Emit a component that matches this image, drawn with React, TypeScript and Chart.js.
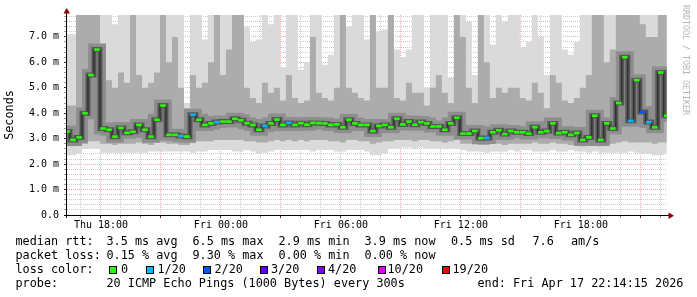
import React, { useEffect, useRef } from "react";
import { Chart, registerables } from "chart.js";

Chart.register(...registerables);

// ---- sampling of the time axis (hours since Thu 00:00) ----
const START_HOUR = 16.3;
const STEP_HOURS = 0.3;
const END_HOUR = 46.31;

// ---- median RTT (ms) ----
const medianMs = [
  3.28, 2.95, 3.05, 4.0, 5.5, 6.5, 3.4, 3.35, 3.08, 3.42,
  3.23, 3.27, 3.54, 3.35, 3.08, 3.74, 4.3, 3.15, 3.15, 3.1,
  3.08, 3.94, 3.74, 3.54, 3.6, 3.65, 3.67, 3.67, 3.78, 3.72,
  3.61, 3.54, 3.35, 3.5, 3.6, 3.75, 3.54, 3.62, 3.54, 3.61,
  3.55, 3.62, 3.61, 3.6, 3.54, 3.56, 3.45, 3.74, 3.6, 3.54,
  3.54, 3.3, 3.5, 3.54, 3.45, 3.78, 3.56, 3.67, 3.55, 3.65,
  3.6, 3.48, 3.48, 3.35, 3.6, 3.82, 3.2, 3.2, 3.3, 3.02,
  3.03, 3.25, 3.33, 3.18, 3.3, 3.25, 3.25, 3.2, 3.45, 3.25,
  3.3, 3.6, 3.22, 3.25, 3.15, 3.22, 2.95, 3.05, 3.9, 2.95,
  3.6, 3.4, 4.4, 6.2, 3.7, 5.3, 4.05, 3.65, 3.45, 5.6,
  3.9,
];

// ---- lost pings out of 20 for each median sample ----
const lostPings = [
  0, 0, 0, 0, 0, 0, 0, 0, 0, 0,
  0, 0, 0, 0, 0, 0, 0, 0, 0, 1,
  0, 1, 0, 0, 0, 1, 0, 0, 0, 0,
  0, 0, 0, 1, 0, 0, 0, 1, 0, 0,
  0, 0, 0, 0, 0, 0, 0, 0, 0, 0,
  0, 0, 0, 0, 0, 0, 0, 0, 0, 0,
  0, 0, 0, 0, 0, 0, 0, 0, 0, 0,
  1, 0, 0, 0, 0, 0, 0, 0, 0, 0,
  0, 0, 0, 0, 0, 0, 0, 0, 0, 0,
  0, 0, 0, 0, 1, 0, 2, 1, 0, 0,
  0,
];

// ---- smoke: slowest ping (ms) ----
const smokeMax = [
  7.1, 7.1, 7.2, 8, 8, 8, 8, 8, 7.5, 8,
  8, 7.4, 8, 8, 8, 8, 8, 8, 8, 8,
  4.4, 8, 8, 6.9, 8, 8, 8, 8, 8, 8,
  7.4, 6.8, 6.9, 8, 7.5, 8, 5.8, 8, 8, 5.7,
  6.0, 8, 8, 5.9, 6.3, 8, 8, 7.4, 8, 8,
  6.9, 8, 7.2, 7.3, 8, 6.5, 6.2, 6.5, 8, 8,
  5.0, 8, 8, 8, 5.4, 8, 8, 7.6, 5.5, 8,
  8, 6.7, 8, 7.6, 8, 8, 6.6, 6.8, 8, 7.0,
  5.5, 8, 8, 6.5, 6.3, 6.8, 8, 8, 8, 8,
  8, 8, 8, 8, 8, 8, 8, 8, 8, 8,
  8,
];

// ---- smoke: upper quantile (ms) ----
const smokeHigh = [
  4.3, 4.3, 8, 8, 8, 8, 5.5, 5.3, 5.0, 5.6,
  5.2, 8, 5.5, 5.0, 5.2, 5.6, 8, 6.0, 7.0, 5.0,
  4.2, 5.5, 5.0, 5.2, 6.0, 8, 5.5, 6.5, 8, 8,
  5.0, 4.6, 4.4, 5.2, 4.8, 5.0, 4.5, 5.5, 4.6, 4.4,
  4.5, 7.0, 4.8, 4.6, 4.5, 5.0, 8, 5.0, 4.8, 4.6,
  4.5, 8, 5.0, 5.0, 8, 4.6, 4.5, 5.2, 4.8, 4.8,
  4.3, 5.0, 5.5, 4.8, 4.4, 8, 7.0, 5.0, 4.4, 8,
  6.0, 4.6, 5.0, 4.8, 5.0, 5.0, 4.6, 4.5, 5.2, 4.8,
  4.2, 5.5, 5.2, 4.5, 4.4, 4.6, 5.0, 5.5, 8, 8,
  6.0, 6.5, 8, 8, 8, 8, 7.5, 7.0, 7.0, 8,
  8,
];

// ---- smoke: lower quantile (ms) ----
const smokeLow = [
  2.75, 2.7, 2.75, 2.9, 2.9, 2.9, 2.8, 2.8, 2.75, 2.8,
  2.8, 2.8, 2.85, 2.8, 2.75, 2.85, 2.85, 2.8, 2.8, 2.75,
  2.75, 2.85, 2.9, 2.9, 2.9, 2.95, 2.95, 2.95, 2.95, 2.95,
  2.9, 2.9, 2.85, 2.85, 2.9, 2.95, 2.9, 2.95, 2.9, 2.95,
  2.9, 2.95, 2.95, 2.95, 2.9, 2.9, 2.85, 2.95, 2.95, 2.9,
  2.9, 2.8, 2.85, 2.9, 2.9, 2.95, 2.95, 2.95, 2.9, 2.95,
  2.95, 2.9, 2.9, 2.85, 2.9, 2.95, 2.8, 2.8, 2.8, 2.75,
  2.75, 2.8, 2.8, 2.75, 2.8, 2.8, 2.8, 2.8, 2.85, 2.8,
  2.8, 2.85, 2.8, 2.8, 2.75, 2.8, 2.7, 2.75, 2.8, 2.7,
  2.8, 2.8, 2.85, 2.9, 2.85, 2.85, 2.85, 2.85, 2.8, 2.85,
  2.85,
];

// ---- smoke: fastest ping (ms) ----
const smokeMin = [
  2.35, 2.35, 2.4, 2.6, 2.6, 2.6, 2.45, 2.45, 2.45, 2.45,
  2.45, 2.45, 2.45, 2.45, 2.5, 2.5, 2.5, 2.5, 2.5, 2.5,
  2.5, 2.45, 2.5, 2.5, 2.55, 2.55, 2.55, 2.55, 2.5, 2.5,
  2.55, 2.5, 2.4, 2.45, 2.5, 2.55, 2.55, 2.55, 2.55, 2.55,
  2.55, 2.5, 2.55, 2.55, 2.55, 2.5, 2.5, 2.55, 2.55, 2.55,
  2.5, 2.35, 2.35, 2.4, 2.6, 2.6, 2.65, 2.65, 2.6, 2.65,
  2.6, 2.6, 2.6, 2.6, 2.6, 2.6, 2.55, 2.5, 2.5, 2.5,
  2.45, 2.5, 2.5, 2.5, 2.55, 2.5, 2.55, 2.55, 2.5, 2.5,
  2.5, 2.55, 2.5, 2.5, 2.55, 2.5, 2.5, 2.45, 2.5, 2.45,
  2.45, 2.45, 2.45, 2.45, 2.5, 2.45, 2.4, 2.4, 2.35, 2.35,
  2.4,
];

// ---- axes ----
const Y_MAX = 7.86;
const xTickHours = [18, 24, 30, 36, 42];
const xTickLabels = ["Thu 18:00", "Fri 00:00", "Fri 06:00", "Fri 12:00", "Fri 18:00"];
const yTickValues = [0, 1, 2, 3, 4, 5, 6, 7];
const yTickLabels = ["0.0", "1.0 m", "2.0 m", "3.0 m", "4.0 m", "5.0 m", "6.0 m", "7.0 m"];
const yTitle = "Seconds";

// ---- legend ----
const lossLevels = [0, 1, 2, 3, 4, 10, 19];
const lossLabels = ["0", "1/20", "2/20", "3/20", "4/20", "10/20", "19/20"];
const lossColors = ["#26ff00", "#00b8ff", "#0059ff", "#5e00ff", "#7e00ff", "#dd00ff", "#ff0000"];
const rttLabel = "median rtt:";
const rttStats = ["3.5 ms avg", "6.5 ms max", "2.9 ms min", "3.9 ms now", "0.5 ms sd", "7.6", "am/s"];
const pktLabel = "packet loss:";
const pktStats = ["0.15 % avg", "9.30 % max", "0.00 % min", "0.00 % now"];
const colorLabel = "loss color:";
const probeLabel = "probe:";
const probeText = "20 ICMP Echo Pings (1000 Bytes) every 300s";
const endText = "end: Fri Apr 17 22:14:15 2026";
const creditText = "RRDTOOL / TOBI OETIKER";

const MONO = "'DejaVu Sans Mono', monospace";

function colorForLoss(n: number): string {
  let idx = 0;
  for (let i = 0; i < lossLevels.length; i++) if (n >= lossLevels[i]) idx = i;
  return lossColors[idx];
}

const isWhole = (v: number, step: number) => {
  const q = v / step;
  return Math.abs(q - Math.round(q)) < 1e-6;
};

const axisPlugin = {
  id: "rrdAxes",
  afterDraw(chart: any) {
    const { ctx, chartArea: a } = chart;
    const x0 = Math.round(a.left) - 0.5;
    const y0 = Math.round(a.bottom) + 0.5;
    ctx.save();
    ctx.strokeStyle = "#000";
    ctx.lineWidth = 1;
    ctx.beginPath();
    ctx.moveTo(x0, a.bottom + 3);
    ctx.lineTo(x0, a.top - 3);
    ctx.moveTo(a.left - 3, y0);
    ctx.lineTo(a.right + 2, y0);
    ctx.stroke();
    ctx.fillStyle = "#8b0000";
    ctx.beginPath();
    ctx.moveTo(x0 - 3, a.top - 1.5);
    ctx.lineTo(x0 + 3.5, a.top - 1.5);
    ctx.lineTo(x0 + 0.25, a.top - 7);
    ctx.closePath();
    ctx.fill();
    ctx.beginPath();
    ctx.moveTo(a.right + 1.5, y0 - 3);
    ctx.lineTo(a.right + 1.5, y0 + 3.5);
    ctx.lineTo(a.right + 7, y0 + 0.25);
    ctx.closePath();
    ctx.fill();
    ctx.restore();
  },
};

export default function App() {
  const canvasRef = useRef<HTMLCanvasElement | null>(null);

  useEffect(() => {
    const canvas = canvasRef.current;
    if (!canvas) return;
    const hours = medianMs.map((_, i) => START_HOUR + i * STEP_HOURS);
    const pts = (arr: number[]) => arr.map((v, i) => ({ x: hours[i], y: v }));
    const base = {
      pointRadius: 0,
      borderWidth: 0,
      borderColor: "transparent",
      stepped: "middle" as const,
      clip: 0,
      fill: false as any,
    };

    const chart = new Chart(canvas, {
      type: "line",
      data: {
        datasets: [
          { ...base, label: "min", order: 20, data: pts(smokeMin) },
          { ...base, label: "max", order: 12, data: pts(smokeMax), fill: { target: 0 }, backgroundColor: "#dadada" },
          { ...base, label: "low", order: 20, data: pts(smokeLow) },
          { ...base, label: "high", order: 10, data: pts(smokeHigh), fill: { target: 2 }, backgroundColor: "#acacac" },
          { ...base, label: "inner", order: 8, data: pts(medianMs), borderWidth: 12, borderColor: "#8e8e8e" },
          { ...base, label: "core", order: 6, data: pts(medianMs), borderWidth: 5, borderColor: "#575757" },
          { ...base, label: "line", order: 4, data: pts(medianMs), borderWidth: 1, borderColor: "#222" },
          {
            ...base,
            label: "median",
            order: 0,
            data: pts(medianMs),
            showLine: false,
            pointStyle: "line",
            pointRadius: 2.8,
            pointBorderWidth: 2.6,
            pointBorderColor: lostPings.map(colorForLoss),
            pointBackgroundColor: lostPings.map(colorForLoss),
          },
        ],
      },
      options: {
        responsive: false,
        animation: false,
        events: [],
        layout: { padding: { top: 15, right: 30, left: 0, bottom: 0 } },
        plugins: { legend: { display: false }, tooltip: { enabled: false } },
        font: { family: MONO },
        scales: {
          x: {
            type: "linear",
            min: START_HOUR,
            max: END_HOUR,
            z: 1,
            afterFit: (s: any) => {
              s.height = 82;
            },
            border: {
              display: false,
              dash: [1, 1],
            },
            grid: {
              drawTicks: true,
              tickLength: 3,
              lineWidth: 1,
              color: (c: any) =>
                c.tick && isWhole(c.tick.value, 3) ? "rgba(255,0,0,0.35)" : "rgba(120,120,120,0.38)",
              tickColor: (c: any) => (c.tick && isWhole(c.tick.value, 3) ? "#333" : "#999"),
            },
            ticks: {
              stepSize: 1,
              autoSkip: false,
              includeBounds: false,
              maxRotation: 0,
              minRotation: 0,
              padding: 1,
              color: "#000",
              font: { family: MONO, size: 10 },
              callback: (v: any) => {
                const n = Number(v);
                const i = xTickHours.findIndex((h) => Math.abs(h - n) < 1e-6);
                return i >= 0 ? xTickLabels[i] : "";
              },
            },
          },
          y: {
            type: "linear",
            min: 0,
            max: Y_MAX,
            z: 1,
            afterFit: (s: any) => {
              s.width = 67;
            },
            border: { display: false, dash: [1, 1] },
            title: {
              display: true,
              text: yTitle,
              color: "#000",
              font: { family: MONO, size: 11.8 },
              padding: { top: 3, bottom: 0 },
            },
            grid: {
              drawTicks: true,
              tickLength: 3,
              lineWidth: 1,
              color: (c: any) =>
                c.tick && isWhole(c.tick.value, 1) ? "rgba(255,0,0,0.35)" : "rgba(120,120,120,0.38)",
              tickColor: (c: any) => (c.tick && isWhole(c.tick.value, 1) ? "#333" : "#999"),
            },
            ticks: {
              stepSize: 0.2,
              autoSkip: false,
              includeBounds: false,
              padding: 5,
              color: "#000",
              font: { family: MONO, size: 10 },
              callback: (v: any) => {
                const n = Number(v);
                const i = yTickValues.findIndex((t) => Math.abs(t - n) < 1e-6);
                return i >= 0 ? yTickLabels[i] : "";
              },
            },
          },
        },
      } as any,
      plugins: [axisPlugin],
    });
    return () => chart.destroy();
  }, []);

  const textStyle = (left: number, top: number): React.CSSProperties => ({
    position: "absolute",
    left,
    top,
    fontFamily: MONO,
    fontSize: "11.8px",
    lineHeight: "14px",
    whiteSpace: "pre",
    color: "#000",
  });

  const statX = [106.5, 192.5, 278.5, 364.5, 451, 532.5, 571];
  const boxX = [109, 146, 203, 260, 317, 378, 442];
  const boxLabelX = [121, 157.5, 214.5, 271, 328, 387.5, 452.5];
  const rowTop = [234, 248, 262, 276];

  return (
    <div
      style={{
        position: "fixed",
        left: 0,
        top: 0,
        width: 697,
        height: 297,
        background: "#fff",
        overflow: "hidden",
      }}
    >
      <canvas ref={canvasRef} width={697} height={297} style={{ position: "absolute", left: 0, top: 0, width: 697, height: 297 }} />
      <div
        style={{
          position: "absolute",
          left: 681,
          top: 5,
          fontFamily: MONO,
          fontSize: "8.3px",
          lineHeight: "10px",
          color: "#b4b4b4",
          writingMode: "vertical-rl",
          whiteSpace: "pre",
        }}
      >
        {creditText}
      </div>

      <div style={textStyle(15.5, rowTop[0])}>{rttLabel}</div>
      {rttStats.map((s, i) => (
        <div key={"r" + i} style={textStyle(statX[i], rowTop[0])}>{s}</div>
      ))}

      <div style={textStyle(15.5, rowTop[1])}>{pktLabel}</div>
      {pktStats.map((s, i) => (
        <div key={"p" + i} style={textStyle(statX[i], rowTop[1])}>{s}</div>
      ))}

      <div style={textStyle(15.5, rowTop[2])}>{colorLabel}</div>
      {lossLabels.map((s, i) => (
        <React.Fragment key={"l" + i}>
          <div
            style={{
              position: "absolute",
              left: boxX[i],
              top: 266,
              width: 6,
              height: 6,
              background: lossColors[i],
              border: "1px solid #000",
            }}
          />
          <div style={textStyle(boxLabelX[i], rowTop[2])}>{s}</div>
        </React.Fragment>
      ))}

      <div style={textStyle(15.5, rowTop[3])}>{probeLabel}</div>
      <div style={textStyle(106.5, rowTop[3])}>{probeText}</div>
      <div style={textStyle(477.5, rowTop[3])}>{endText}</div>
    </div>
  );
}
